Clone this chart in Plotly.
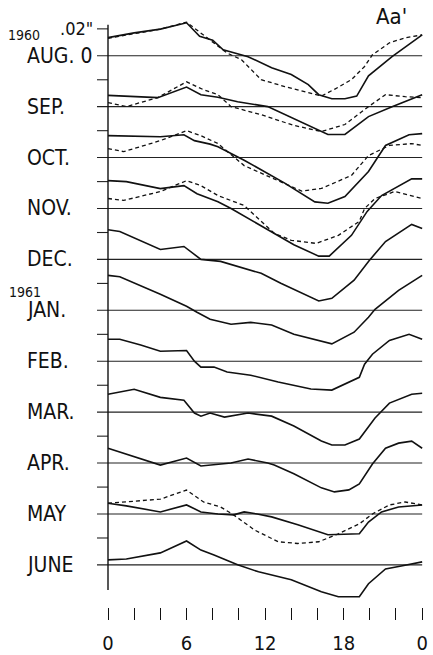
import plotly.graph_objects as go

# Monthly mean diurnal curves, hundredths of an inch, hour of day 0-24
MONTHS = ["AUG.", "SEP.", "OCT.", "NOV.", "DEC.", "JAN.", "FEB.", "MAR.", "APR.", "MAY", "JUNE"]
HOUR_TICKS = list(range(0, 25, 2))
HOUR_LABELS = {0: "0", 6: "6", 12: "12", 18: "18", 24: "0"}

AUG_H = [0, 2, 4, 6, 7, 8, 8.8, 10.7, 12.5, 14, 15.3, 16.1, 17.1, 18.1, 19, 19.9, 21.7, 24]
AUG_V = [1.35, 1.7, 1.98, 2.45, 1.45, 1.15, 0.44, -0.07, -0.9, -1.4, -2.15, -2.9, -3.2, -3.2, -3.0, -1.5, -0.07, 1.55]
AUG_DH = [0, 2, 4, 6, 7.3, 9.1, 10.2, 11.7, 13.5, 15.3, 16.3, 17.3, 18.6, 19.6, 20.2, 21.5, 22.7, 24]
AUG_DV = [1.3, 1.65, 1.98, 2.5, 1.55, 0.2, -0.3, -1.78, -2.3, -2.75, -3.0, -2.5, -1.78, -0.8, 0.07, 0.96, 1.33, 1.55]

SEP_H = [0, 3.8, 6, 7.1, 8.4, 9.9, 12.2, 14.8, 16.8, 18.1, 19.9, 21.7, 24]
SEP_V = [0.84, 0.67, 1.46, 0.89, 0.7, 0.37, 0.0, -1.2, -2.07, -2.07, -0.74, 0.0, 0.89]
SEP_DH = [0, 1.4, 3.8, 6, 7.3, 8.4, 9.4, 11.7, 14.2, 16.3, 18.1, 19.9, 21.2, 22.7, 24]
SEP_DV = [0.3, 0.0, 0.67, 1.85, 1.26, 0.89, 0.0, -0.6, -1.4, -1.85, -1.33, 0.0, 0.89, 0.74, 0.67]

OCT_H = [0, 4, 5.8, 6.6, 7.8, 8.4, 10.4, 13.5, 15.8, 16.8, 18.1, 19.9, 21.2, 23, 24]
OCT_V = [1.63, 1.55, 1.7, 1.26, 1.0, 0.8, -0.2, -1.9, -3.3, -3.4, -2.9, -1.04, 0.9, 1.7, 1.78]
OCT_DH = [0, 1.2, 4, 6, 7.1, 8.4, 10.4, 13, 14.8, 16.3, 18.6, 19.9, 21.5, 23.2, 24]
OCT_DV = [0.67, 0.44, 1.26, 2.0, 1.63, 1.04, -0.6, -1.7, -2.5, -2.3, -1.33, 0.15, 0.9, 1.04, 0.9]

NOV_H = [0, 1.4, 4, 5.8, 6.8, 8.4, 9.4, 12.7, 14.2, 16.1, 16.9, 18.6, 19.8, 20.9, 23.2, 24]
NOV_V = [2.07, 2.0, 1.48, 1.7, 1.1, 0.5, 0.0, -1.85, -2.7, -3.55, -3.55, -2.0, -0.22, 0.96, 2.2, 2.2]
NOV_DH = [0, 1.2, 4, 6, 7.1, 8.4, 10.4, 12.7, 14, 15.9, 17.6, 19.2, 19.6, 20.4, 21.9, 24]
NOV_DV = [0.74, 0.6, 1.26, 2.07, 1.7, 0.96, 0.22, -1.85, -2.37, -2.6, -2.0, -0.96, 0.0, 0.74, 1.26, 0.74]

DEC_H = [0, 0.9, 4, 5.8, 7.1, 8.6, 11.7, 13.2, 16.1, 17.1, 18.8, 19.9, 21.2, 23.2, 24]
DEC_V = [2.2, 2.07, 0.74, 0.96, 0.0, -0.15, -1.04, -1.78, -3.1, -2.9, -1.55, -0.15, 1.33, 2.6, 2.3]

JAN_H = [0, 0.9, 4, 6, 6.8, 7.8, 9.4, 10.9, 12.5, 14.2, 17.1, 18.8, 19.9, 20.4, 22.2, 24]
JAN_V = [2.6, 2.5, 1.2, 0.3, -0.15, -0.67, -1.04, -0.9, -1.1, -1.78, -2.5, -1.63, -0.52, 0.07, 1.48, 2.6]

FEB_H = [0, 0.9, 2.5, 4, 6, 6.6, 7.1, 8.1, 9.1, 10.9, 13, 15.5, 17.1, 19.2, 19.6, 20.2, 21.5, 23, 24]
FEB_V = [1.63, 1.63, 1.2, 0.74, 0.8, 0.0, -0.44, -0.44, -0.8, -1.04, -1.55, -2.07, -2.15, -1.2, -0.22, 0.52, 1.55, 2.0, 1.63]

MAR_H = [0, 2, 4, 5.8, 6.6, 7.1, 7.8, 8.9, 10.7, 12.5, 14.2, 16.3, 17.1, 18.1, 19.2, 20.4, 21.5, 23.2, 24]
MAR_V = [1.33, 1.7, 1.1, 0.89, -0.07, -0.3, -0.07, -0.37, -0.07, -0.3, -1.04, -2.15, -2.45, -2.45, -2.0, -0.44, 0.67, 1.33, 1.4]

APR_H = [0, 1.4, 4, 6, 7.1, 9.4, 10.7, 12.2, 12.7, 14.2, 16.3, 17.3, 18.4, 19.2, 20.2, 21.2, 22.2, 23.2, 24]
APR_V = [1.1, 0.67, -0.15, 0.37, -0.22, 0.0, 0.3, 0.0, -0.15, -0.8, -1.85, -2.15, -2.0, -1.55, -0.07, 1.1, 1.48, 1.63, 1.1]

MAY_H = [0, 1.4, 4, 6, 7.1, 8.4, 9.6, 10.4, 11.4, 12.5, 14.5, 16.8, 19.2, 19.9, 20.9, 22.2, 24]
MAY_V = [0.8, 0.6, 0.15, 0.67, 0.15, 0.0, -0.07, 0.15, 0.0, -0.22, -0.8, -1.55, -1.48, -0.6, 0.15, 0.52, 0.67]
MAY_DH = [0, 4, 6, 7.3, 8.6, 9.6, 11.2, 13, 14.5, 16.1, 17.6, 19.2, 20.2, 21.5, 22.7, 24]
MAY_DV = [0.8, 1.1, 1.78, 0.89, 0.52, -0.07, -1.2, -2.07, -2.2, -2.07, -1.48, -0.74, 0.0, 0.67, 0.89, 0.67]

JUN_H = [0, 1.4, 4, 6, 7.1, 8.1, 9.9, 11.5, 14, 16.3, 17.6, 19.2, 19.9, 21.2, 22.5, 24]
JUN_V = [0.37, 0.44, 0.89, 1.78, 1.1, 0.74, 0.0, -0.52, -1.1, -2.0, -2.37, -2.37, -1.4, -0.3, -0.07, 0.22]

SOLID = [(AUG_H, AUG_V), (SEP_H, SEP_V), (OCT_H, OCT_V), (NOV_H, NOV_V), (DEC_H, DEC_V),
         (JAN_H, JAN_V), (FEB_H, FEB_V), (MAR_H, MAR_V), (APR_H, APR_V), (MAY_H, MAY_V),
         (JUN_H, JUN_V)]
DASHED = {0: (AUG_DH, AUG_DV), 1: (SEP_DH, SEP_DV), 2: (OCT_DH, OCT_DV),
          3: (NOV_DH, NOV_DV), 9: (MAY_DH, MAY_DV)}

# ---- layout geometry ----
W, H = 433, 655
PLOT_H = 610                 # plot area height in px (bottom margin holds hour ticks)
PX_PER_HOUR = 13.09
X0_PX = 108                  # pixel column of hour 0
PX_PER_UNIT = 13.5           # px per 0.01 inch
TOP_BASE_PX = 56             # pixel row of the first baseline
STEP = 3.79                  # vertical spacing between months, in 0.01 inch
TICK_H = 11 / PX_PER_HOUR    # length of the small axis ticks, in hours

x_range = [-X0_PX / PX_PER_HOUR, (W - X0_PX) / PX_PER_HOUR]
y_top = TOP_BASE_PX / PX_PER_UNIT
y_range = [y_top - PLOT_H / PX_PER_UNIT, y_top]


def offset(i):
    return -i * STEP


def paper(xp, yp):
    return xp / W, 1 - yp / PLOT_H


INK = "#111111"
FONT = "DejaVu Sans Condensed, Liberation Sans Narrow, DejaVu Sans, sans-serif"

fig = go.Figure()

# baselines and small ticks at 0 and .02" for every month
bx, by = [], []
for i in range(len(MONTHS)):
    b = offset(i)
    bx += [-TICK_H, 24, None, -TICK_H, 0, None]
    by += [b, b, None, b + 2, b + 2, None]
fig.add_trace(go.Scatter(x=bx, y=by, mode="lines", line=dict(color="#222222", width=1.1),
                         hoverinfo="skip", showlegend=False))

# vertical axis line
fig.add_trace(go.Scatter(x=[0, 0], y=[2.3, (TOP_BASE_PX - 593) / PX_PER_UNIT], mode="lines",
                         line=dict(color=INK, width=1.4), hoverinfo="skip", showlegend=False))

# dashed companions
for i, (hh, vv) in DASHED.items():
    fig.add_trace(go.Scatter(x=hh, y=[v + offset(i) for v in vv], mode="lines",
                             line=dict(color=INK, width=1.3, dash="4px,3px"),
                             hoverinfo="skip", showlegend=False))

# solid monthly curves
for i, (hh, vv) in enumerate(SOLID):
    fig.add_trace(go.Scatter(x=hh, y=[v + offset(i) for v in vv], mode="lines",
                             line=dict(color=INK, width=1.6),
                             name=MONTHS[i], showlegend=False))

annotations = []
for i, m in enumerate(MONTHS):
    text = "AUG. 0" if i == 0 else m
    annotations.append(dict(text=text, xref="paper", yref="y", x=25 / W, y=offset(i),
                            xanchor="left", yanchor="middle", showarrow=False,
                            font=dict(size=21, color=INK, family=FONT)))

px, py = paper(95, 29)
annotations.append(dict(text='.02"', xref="paper", yref="paper", x=px, y=py,
                        xanchor="right", yanchor="middle", showarrow=False,
                        font=dict(size=18, color=INK, family=FONT)))
px, py = paper(6, 35)
annotations.append(dict(text="1960", xref="paper", yref="paper", x=px, y=py,
                        xanchor="left", yanchor="middle", showarrow=False,
                        font=dict(size=14, color=INK, family=FONT)))
px, py = paper(7, 293)
annotations.append(dict(text="1961", xref="paper", yref="paper", x=px, y=py,
                        xanchor="left", yanchor="middle", showarrow=False,
                        font=dict(size=14, color=INK, family=FONT)))
px, py = paper(391, 17)
annotations.append(dict(text="Aa'", xref="paper", yref="paper", x=px, y=py,
                        xanchor="center", yanchor="middle", showarrow=False,
                        font=dict(size=22, color=INK, family=FONT)))

fig.update_layout(
    width=W, height=H,
    margin=dict(l=0, r=0, t=0, b=H - PLOT_H),
    paper_bgcolor="white", plot_bgcolor="white",
    annotations=annotations,
    xaxis=dict(range=x_range, showgrid=False, zeroline=False, showline=False,
               tickmode="array", tickvals=HOUR_TICKS,
               ticktext=[HOUR_LABELS.get(t, "") for t in HOUR_TICKS],
               ticks="outside", ticklen=12, tickwidth=1.4, tickcolor=INK,
               ticklabelstandoff=6,
               tickfont=dict(size=20, color=INK, family=FONT)),
    yaxis=dict(range=y_range, showgrid=False, zeroline=False, showline=False,
               showticklabels=False, ticks=""),
)

fig.write_html("out.html")
